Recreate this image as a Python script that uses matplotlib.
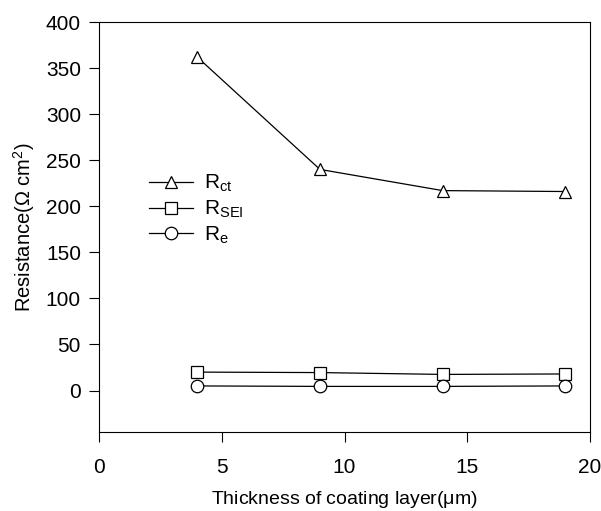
import matplotlib
matplotlib.use('Agg')
import matplotlib.pyplot as plt

plt.rcParams['font.family'] = ['Liberation Sans', 'DejaVu Sans']
plt.rcParams['mathtext.fontset'] = 'custom'
plt.rcParams['mathtext.rm'] = 'Liberation Sans'
plt.rcParams['mathtext.it'] = 'Liberation Sans'

thickness = [4, 9, 14, 19]
r_ct = [362, 240, 217, 216]
r_sei = [20, 19.5, 17.5, 18]
r_e = [5, 4.5, 4.5, 5]

fig = plt.figure(figsize=(6.01, 5.11), dpi=100)
ax = fig.add_axes([99/601, 1-432/511, (590-99)/601, (432-22)/511])

mk = dict(color='black', lw=0.9, markerfacecolor='white', markeredgecolor='black',
          markeredgewidth=0.9, markersize=9)
ax.plot(thickness, r_ct, marker='^', label=r'R$_{\rm ct}$', **mk)
ax.plot(thickness, r_sei, marker='s', label=r'R$_{\rm SEI}$', **dict(mk, markersize=8))
ax.plot(thickness, r_e, marker='o', label=r'R$_{\rm e}$', **mk)

ax.set_xlim(0, 20)
ax.set_ylim(-45, 400)
ax.set_xticks([0, 5, 10, 15, 20])
ax.set_yticks([0, 50, 100, 150, 200, 250, 300, 350, 400])
ax.tick_params(direction='out', length=7, width=0.8, labelsize=15)
ax.tick_params(axis='y', pad=6)
ax.tick_params(axis='x', pad=12)
for s in ax.spines.values():
    s.set_linewidth(0.8)

ax.set_xlabel(r'Thickness of coating layer($\mu$m)', fontsize=14, labelpad=8)
ax.set_ylabel(r'Resistance($\Omega$ cm$^2$)', fontsize=14.5, labelpad=6)

ax.legend(loc='upper left', bbox_to_anchor=(0.085, 0.652), frameon=False,
          fontsize=15, handlelength=2.1, handletextpad=0.55, labelspacing=0.22,
          borderaxespad=0)

fig.savefig('out.png', dpi=100)
